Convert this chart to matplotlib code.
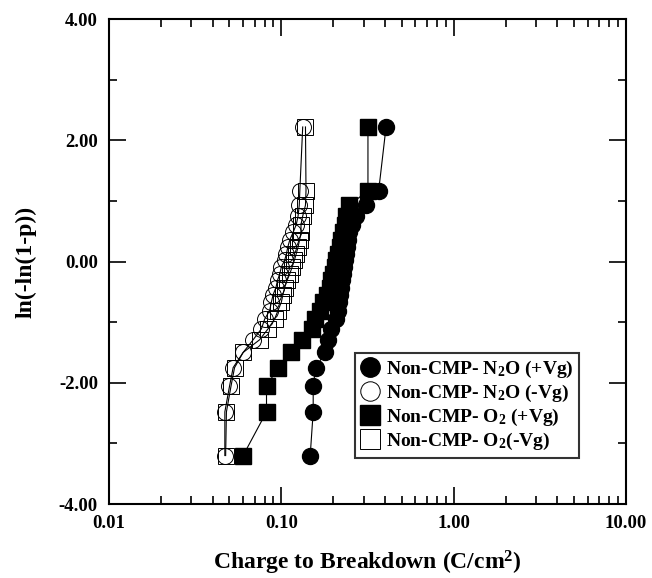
import numpy as np
import matplotlib
matplotlib.use("Agg")
import matplotlib.pyplot as plt
from matplotlib.lines import Line2D

plt.rcParams['font.family'] = ['Liberation Serif', 'DejaVu Serif']
plt.rcParams['font.weight'] = 'bold'
plt.rcParams['mathtext.fontset'] = 'custom'
plt.rcParams['mathtext.rm'] = 'Liberation Serif:bold'
plt.rcParams['mathtext.default'] = 'rm'

# Weibull ordinate ln(-ln(1-p)) for the 25 ranks (same for all four sets)
weib_y = [-3.20, -2.48, -2.06, -1.75, -1.50, -1.29, -1.11, -0.95, -0.81, -0.67,
          -0.55, -0.43, -0.31, -0.20, -0.09, 0.02, 0.13, 0.24, 0.36, 0.48,
          0.61, 0.75, 0.93, 1.17, 2.22]

# charge to breakdown (C/cm2)
qbd_n2o_pos = [0.147, 0.153, 0.153, 0.158, 0.180, 0.187, 0.195, 0.208, 0.213, 0.216,
               0.218, 0.223, 0.226, 0.228, 0.230, 0.234, 0.237, 0.240, 0.245, 0.248,
               0.258, 0.272, 0.310, 0.367, 0.405]
qbd_n2o_neg = [0.047, 0.047, 0.050, 0.0525, 0.060, 0.0686, 0.0766, 0.080, 0.0855, 0.0875,
               0.0895, 0.093, 0.095, 0.098, 0.100, 0.1045, 0.107, 0.109, 0.112, 0.117,
               0.122, 0.125, 0.127, 0.128, 0.133]
qbd_o2_pos = [0.060, 0.082, 0.082, 0.0955, 0.114, 0.131, 0.151, 0.156, 0.167, 0.175,
              0.183, 0.191, 0.195, 0.199, 0.204, 0.208, 0.213, 0.218, 0.223, 0.228,
              0.233, 0.238, 0.248, 0.318, 0.318]
qbd_o2_neg = [0.0475, 0.048, 0.051, 0.0535, 0.060, 0.0748, 0.0837, 0.0914, 0.0955, 0.100,
              0.102, 0.1045, 0.108, 0.112, 0.1155, 0.119, 0.122, 0.125, 0.1276, 0.130,
              0.130, 0.133, 0.138, 0.139, 0.138]

labels = [r'Non-CMP- N$_2$O (+Vg)', r'Non-CMP- N$_2$O (-Vg)',
          r'Non-CMP- O$_2$ (+Vg)', r'Non-CMP- O$_2$(-Vg)']

fig = plt.figure(figsize=(6.52, 5.78), dpi=100)
ax = fig.add_axes([0.1672, 0.128, 0.7930, 0.839])

styles = [('o', 'black'), ('o', 'none'), ('s', 'black'), ('s', 'none')]
series = [qbd_n2o_pos, qbd_n2o_neg, qbd_o2_pos, qbd_o2_neg]

for q, (m, fc) in zip(series, styles):
    ax.plot(q, weib_y, '-', color='black', lw=0.8, marker=m, ms=11.5,
            mfc=fc, mec='black', mew=0.7 if fc == 'none' else 1.0)

ax.set_xscale('log')
ax.set_xlim(0.01, 10)
ax.set_ylim(-4, 4)
ax.set_xticks([0.01, 0.1, 1, 10])
ax.set_xticklabels(['0.01', '0.10', '1.00', '10.00'])
ax.set_yticks([-4, -2, 0, 2, 4])
ax.set_yticklabels(['-4.00', '-2.00', '0.00', '2.00', '4.00'])
ax.set_yticks([-3, -1, 1, 3], minor=True)

ax.tick_params(which='both', direction='in', top=True, right=True, width=1.2,
               labelsize=13.5)
ax.tick_params(which='major', length=12, pad=8)
ax.tick_params(which='minor', length=6)
for s in ax.spines.values():
    s.set_linewidth(1.5)

ax.set_xlabel(r'Charge to Breakdown (C/cm$^2$)', fontsize=17, fontweight='bold',
              labelpad=12)
ax.set_ylabel('ln(-ln(1-p))', fontsize=17, fontweight='bold', labelpad=16)

handles = [Line2D([], [], ls='none', marker=m, ms=14, mfc=fc, mec='black',
                  mew=0.7 if fc == 'none' else 1.0) for m, fc in styles]
leg = ax.legend(handles, labels, loc='lower left', bbox_to_anchor=(0.475, 0.095),
                borderaxespad=0, fontsize=14, frameon=True, fancybox=False,
                handlelength=1.0, handletextpad=0.3, labelspacing=0.15,
                borderpad=0.3)
leg.get_frame().set_edgecolor('black')
leg.get_frame().set_linewidth(1.5)

fig.savefig('out.png', dpi=100)
